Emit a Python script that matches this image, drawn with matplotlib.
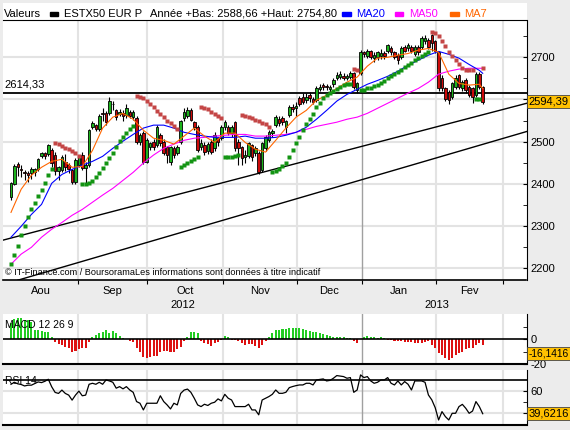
import matplotlib
matplotlib.use("Agg")
import matplotlib.pyplot as plt
import matplotlib.transforms as mtrans
from matplotlib.patches import Rectangle

plt.rcParams['font.family'] = ['Liberation Sans', 'DejaVu Sans']
plt.rcParams['font.size'] = 8

# daily candles, Aug 2012 -> Feb 2013 (ESTX50)
opens = [2368, 2400, 2446, 2436, 2428, 2425, 2425, 2427, 2434, 2465,
         2472, 2470, 2480, 2468, 2430, 2432, 2451, 2444, 2432, 2404,
         2444, 2468, 2437, 2444, 2534, 2539, 2529, 2568, 2567, 2567,
         2590, 2574, 2566, 2568, 2562, 2570, 2558, 2555, 2499, 2520,
         2451, 2487, 2498, 2491, 2515, 2499, 2487, 2451, 2484, 2472,
         2499, 2555, 2560, 2574, 2546, 2534, 2487, 2491, 2478, 2499,
         2484, 2508, 2508, 2534, 2534, 2520, 2546, 2499, 2487, 2463,
         2465, 2491, 2472, 2472, 2432, 2484, 2503, 2520, 2539, 2553,
         2556, 2534, 2563, 2582, 2580, 2603, 2605, 2598, 2610, 2600,
         2598, 2625, 2634, 2632, 2624, 2636, 2650, 2653, 2655, 2650,
         2653, 2662, 2622, 2662, 2712, 2702, 2714, 2698, 2700, 2703,
         2710, 2714, 2721, 2712, 2705, 2700, 2724, 2721, 2724, 2709,
         2724, 2724, 2738, 2740, 2752, 2738, 2712, 2650, 2626, 2618,
         2606, 2630, 2657, 2626, 2645, 2630, 2626, 2610, 2661, 2629]
highs = [2405, 2446, 2452, 2445, 2432, 2430, 2440, 2437, 2461, 2476,
         2475, 2495, 2484, 2475, 2442, 2468, 2470, 2450, 2436, 2460,
         2468, 2475, 2452, 2530, 2548, 2542, 2565, 2580, 2572, 2605,
         2596, 2578, 2578, 2575, 2588, 2575, 2575, 2560, 2520, 2525,
         2508, 2500, 2505, 2540, 2520, 2505, 2490, 2490, 2490, 2492,
         2552, 2580, 2582, 2580, 2550, 2540, 2505, 2500, 2500, 2505,
         2522, 2512, 2540, 2552, 2540, 2540, 2550, 2505, 2490, 2480,
         2500, 2495, 2490, 2478, 2500, 2515, 2527, 2530, 2562, 2560,
         2560, 2552, 2587, 2590, 2595, 2608, 2615, 2615, 2618, 2605,
         2632, 2637, 2640, 2637, 2634, 2650, 2665, 2668, 2662, 2660,
         2668, 2665, 2642, 2718, 2716, 2720, 2718, 2712, 2716, 2720,
         2715, 2732, 2726, 2716, 2710, 2726, 2730, 2733, 2730, 2728,
         2730, 2750, 2752, 2745, 2754.8, 2742, 2716, 2658, 2630, 2622,
         2642, 2657, 2660, 2647, 2650, 2635, 2630, 2665, 2665, 2632]
lows = [2362, 2396, 2418, 2415, 2408, 2405, 2412, 2418, 2430, 2460,
        2458, 2466, 2440, 2420, 2408, 2428, 2430, 2425, 2400, 2400,
        2440, 2432, 2401, 2440, 2530, 2525, 2525, 2550, 2540, 2563,
        2575, 2552, 2560, 2550, 2556, 2555, 2552, 2495, 2492, 2446,
        2448, 2480, 2480, 2488, 2490, 2468, 2449, 2445, 2462, 2468,
        2495, 2550, 2555, 2548, 2528, 2475, 2480, 2468, 2470, 2470,
        2478, 2490, 2504, 2528, 2515, 2512, 2478, 2444, 2445, 2450,
        2460, 2455, 2465, 2424, 2428, 2478, 2498, 2512, 2535, 2538,
        2540, 2520, 2558, 2570, 2560, 2585, 2590, 2592, 2595, 2588,
        2593, 2620, 2622, 2622, 2618, 2630, 2645, 2648, 2645, 2645,
        2648, 2625, 2615, 2658, 2700, 2698, 2695, 2690, 2694, 2695,
        2695, 2710, 2705, 2695, 2685, 2695, 2712, 2714, 2710, 2703,
        2705, 2720, 2732, 2720, 2714, 2710, 2620, 2620, 2596, 2588.66,
        2600, 2625, 2625, 2620, 2615, 2605, 2591, 2605, 2625, 2590]
closes = [2401, 2442, 2440, 2432, 2425, 2420, 2434, 2434, 2458, 2472,
          2465, 2491, 2449, 2430, 2439, 2463, 2439, 2435, 2404, 2456,
          2465, 2437, 2444, 2527, 2544, 2529, 2560, 2566, 2546, 2596,
          2588, 2558, 2570, 2560, 2579, 2561, 2570, 2499, 2515, 2451,
          2503, 2496, 2487, 2534, 2496, 2472, 2468, 2487, 2468, 2487,
          2548, 2570, 2574, 2551, 2534, 2480, 2496, 2475, 2494, 2475,
          2515, 2499, 2534, 2546, 2520, 2534, 2484, 2484, 2461, 2468,
          2496, 2463, 2484, 2427, 2496, 2510, 2522, 2525, 2558, 2544,
          2546, 2548, 2582, 2577, 2584, 2589, 2594, 2605, 2603, 2595,
          2627, 2630, 2629, 2629, 2629, 2645, 2658, 2660, 2652, 2655,
          2662, 2629, 2638, 2712, 2707, 2714, 2700, 2705, 2712, 2710,
          2702, 2728, 2712, 2700, 2693, 2721, 2716, 2728, 2716, 2724,
          2712, 2745, 2745, 2724, 2735, 2715, 2626, 2628, 2602, 2598,
          2638, 2650, 2630, 2641, 2622, 2610, 2606, 2661, 2630, 2594.39]

# parabolic SAR, one value per candle
sar = [2209, 2231, 2252, 2278, 2299, 2321, 2340, 2354, 2371, 2385,
       2401, 2420, 2435, 2496, 2494, 2489, 2484, 2482, 2477, 2473,
       2466, 2399, 2399, 2401, 2406, 2416, 2425, 2437, 2449, 2461,
       2473, 2487, 2501, 2510, 2520, 2529, 2537, 2608, 2605, 2603,
       2596, 2589, 2582, 2572, 2565, 2558, 2548, 2544, 2537, 2529,
       2439, 2444, 2449, 2454, 2458, 2463, 2582, 2579, 2577, 2570,
       2565, 2560, 2555, 2463, 2463, 2463, 2465, 2468, 2563, 2560,
       2558, 2555, 2551, 2548, 2544, 2541, 2534, 2427, 2430, 2435,
       2442, 2449, 2463, 2480, 2496, 2510, 2527, 2541, 2553, 2565,
       2582, 2591, 2603, 2610, 2615, 2619, 2624, 2629, 2634, 2636,
       2637, 2672, 2670, 2622, 2623, 2626, 2628, 2631, 2635, 2640,
       2644, 2650, 2655, 2660, 2665, 2671, 2676, 2681, 2687, 2693,
       2698, 2703, 2709, 2713, 2759, 2757, 2750, 2738, 2726, 2712,
       2702, 2693, 2683, 2674, 2669, 2669, 2669, 2600, 2601, 2674]

# moving averages read every third session
ma_days = [0, 3, 6, 9, 12, 15, 18, 21, 24, 27, 30, 33, 36, 39, 42, 45,
           48, 51, 54, 57, 60, 63, 66, 69, 72, 75, 78, 81, 84, 87, 90, 93,
           96, 99, 102, 105, 108, 111, 114, 117, 120, 123, 126, 129, 132,
           135, 138, 139]
ma20 = [2273, 2299, 2327, 2351, 2401, 2422, 2434, 2444, 2453, 2465, 2484,
        2501, 2517, 2532, 2539, 2539, 2532, 2522, 2517, 2513, 2510, 2510,
        2510, 2513, 2508, 2508, 2510, 2515, 2522, 2534, 2553, 2574, 2596,
        2612, 2624, 2636, 2645, 2655, 2667, 2681, 2693, 2705, 2714, 2707,
        2698, 2683, 2669, 2662]
ma50 = [2209, 2233, 2249, 2273, 2292, 2308, 2325, 2339, 2356, 2373, 2389,
        2408, 2427, 2449, 2468, 2484, 2494, 2503, 2508, 2510, 2513, 2515,
        2517, 2517, 2513, 2513, 2515, 2517, 2522, 2529, 2536, 2541, 2546,
        2553, 2558, 2567, 2579, 2591, 2603, 2615, 2626, 2641, 2660, 2667,
        2672, 2674, 2674, 2674]
ma7 = [2332, 2387, 2420, 2439, 2453, 2458, 2439, 2441, 2479, 2532, 2558,
       2567, 2553, 2527, 2508, 2503, 2494, 2513, 2532, 2513, 2498, 2520,
       2520, 2498, 2482, 2475, 2503, 2532, 2558, 2574, 2598, 2610, 2626,
       2641, 2653, 2679, 2698, 2700, 2705, 2709, 2717, 2721, 2712, 2660,
       2638, 2634, 2636, 2626]

macd_hist = [12.6, 16, 17, 16.6, 15.2, 15.2, 13.8, 7.2, 7.2, 6.4,
             5.8, 5.4, 1.8, -2.2, -4.2, -4.8, -6.2, -7, -10.2, -9.6,
             -8, -7.4, -7.4, -2.6, 1.4, 3.2, 4.6, 5.8, 7, 4.6,
             6.4, 4.6, 2.6, 1, 0.2, -1.6, -2.6, -7.4, -10.2, -14.2,
             -15, -14.2, -13.4, -13.4, -10.2, -9.6, -9.6, -10.2, -10.2, -8.2,
             -6.2, -1.6, 1.8, 5.8, 5.8, 4.6, -1.6, -3.4, -4.2, -5.4,
             -3.4, -2.6, -0.4, 2.4, 1.8, -0.6, -0.8, -1.6, -3.4, -4.8,
             -4.2, -4.2, -5.4, -7.4, -4.8, -1.6, 1.8, 4.6, 7.2, 7.2,
             7.8, 7.8, 8.6, 8.6, 8.6, 8.6, 8, 7.2, 6.4, 5.8,
             5.4, 4.6, 3.8, 3.2, 2.6, 1.8, 1.8, 1.6, 1.4, 1,
             1, -1.6, -3, 0.4, 1.8, 2.6, 1.8, 1.4, 1, 1.4,
             1, -0.4, -0.8, -1.4, -1.6, -1.6, -2.2, -2.2, -2.6, -3,
             -3.4, -3, -2.2, -1.6, -4.8, -7, -11, -12.8, -15.4, -16.8,
             -15, -12.8, -11.4, -10.2, -8.2, -7.4, -7, -4.8, -3.4, -4.8]

rsi = [66, 67.8, 66.4, 65.8, 64.5, 65.2, 65.2, 66.7, 68.1, 67.5,
       68.7, 70.5, 63.7, 58.7, 57.8, 60.8, 57.8, 56.3, 51.8, 56.3,
       59.9, 55.7, 56.3, 66, 66.9, 66, 67.8, 66, 69.9, 69,
       67.8, 62.5, 63.9, 61.9, 63.9, 60.9, 58.8, 50.5, 49, 43,
       49, 49, 49, 49, 55.7, 50.5, 47.5, 43.9, 49, 47.5,
       57.8, 60.8, 61.7, 58.8, 53.5, 47.5, 46, 48.1, 47, 49,
       49.9, 52.9, 51.1, 57, 53.5, 51.9, 46, 46, 46, 46,
       48.1, 43, 43, 38.6, 51.9, 53.5, 55, 57, 60.9, 57.9,
       57.9, 58.8, 63, 64, 64.8, 65.4, 65.4, 66.9, 66.9, 65.4,
       69.9, 70.3, 70.8, 69, 69.5, 71.4, 73.8, 73.3, 72.9, 71.4,
       72, 58.8, 60.9, 74.4, 72, 72.9, 69, 66.9, 67.8, 69.9,
       69.9, 72, 66.9, 65.4, 69, 65.4, 68.4, 66, 60.9, 69,
       69, 69, 67.8, 56.4, 52, 45, 34, 41.5, 37, 34,
       40, 40, 46, 48, 44.5, 40, 42, 50.5, 46, 39.6216]

month_edges = [19.7, 40.1, 62.5, 84.3, 103.4, 125.2, 145.0]
month_names = ['Aou', 'Sep', 'Oct', 'Nov', 'Dec', 'Jan', 'Fev']
years = ['2012', '2013']
year_pos = [50.5, 125.5]

price_ticks = [2200, 2300, 2400, 2500, 2600, 2700]
price_labels = ['2200', '2300', '2400', '2500', '', '2700']

trend_hi_x, trend_hi_y = [-2.4, 152], [2266, 2591]
trend_lo_x, trend_lo_y = [2.0, 152], [2171, 2524]
level = 2614.33
last_macd = -16.1416
year_low, year_high = 2588.66, 2754.80

W, H = 570, 430
BG = '#ECECEC'
GRID = '#E3E3E3'
UP, DOWN = '#1DB31D', '#CC0A0A'
GOLD = '#FFC000'


def rect(x0, y0, x1, y1):
    return [x0 / W, 1 - y1 / H, (x1 - x0) / W, (y1 - y0) / H]


def fr(v, n):
    return f"{v:.{n}f}".replace('.', ',')


fig = plt.figure(figsize=(W / 100, H / 100), dpi=100, facecolor=BG)
head = fig.add_axes(rect(3, 3, 526.5, 19.5))
ax = fig.add_axes(rect(3, 19.5, 526.5, 280))
mac = fig.add_axes(rect(3, 313.5, 526.5, 364))
rs = fig.add_axes(rect(3, 370, 526.5, 425))

days = list(range(len(closes)))
xlim = (-2.36, 151.9)
jan = month_edges[month_names.index('Jan') - 1]


def frame(a):
    a.set_xlim(*xlim)
    a.set_facecolor('white')
    a.spines['left'].set_visible(False)
    a.spines['top'].set_visible(False)
    a.spines['bottom'].set_linewidth(1.5)
    a.yaxis.tick_right()
    a.set_xticks(month_edges)
    a.tick_params(axis='x', length=0, labelbottom=False)
    a.tick_params(axis='y', which='both', direction='in', length=3,
                  pad=3, labelsize=8)
    for m in month_edges:
        if m == jan:
            a.axvline(m, color='#A0A0A0', lw=1.0, zorder=0.5)
        else:
            a.axvline(m, color=GRID, lw=1.5, zorder=0.5)


for a in (ax, mac, rs):
    frame(a)

# header strip
head.set_xlim(3, 526.5)
head.set_ylim(19.5, 3)
head.set_facecolor('white')
head.set_xticks([])
head.set_yticks([])
for s in head.spines.values():
    s.set_visible(False)
head.text(4, 17, 'Valeurs', fontsize=8, va='baseline')
head.add_patch(Rectangle((50, 12.3), 8.4, 3.4, color='black'))
head.text(64.5, 17, 'ESTX50 EUR P', fontsize=8, va='baseline')
head.text(150, 17, f'Année +Bas: {fr(year_low, 2)} +Haut: {fr(year_high, 2)}',
          fontsize=8, va='baseline')
for x0, name, col in [(342, 'MA20', '#0000FF'), (394.5, 'MA50', '#FF00FF'),
                      (450, 'MA7', '#FF6600')]:
    head.add_patch(Rectangle((x0, 12.3), 8.8, 3.4, color=col))
    head.text(x0 + 14.5, 17, name, fontsize=8, va='baseline', color=col)

# main price panel
ax.spines['top'].set_visible(True)
ax.spines['bottom'].set_linewidth(1.2)
ax.set_ylim(2171.5, 2789.7)
ax.set_yticks(price_ticks)
ax.set_yticklabels(price_labels)
ax.set_yticks([2250, 2350, 2450, 2550, 2650, 2750], minor=True)
for v in price_ticks:
    ax.axhline(v, color=GRID, lw=1.5, zorder=0.4)

centers = [(a + b) / 2 for a, b in zip([xlim[0]] + month_edges[:-1], month_edges)]
ax.set_xticks(centers, minor=True)
ax.set_xticklabels(month_names, minor=True)
ax.tick_params(axis='x', which='major', direction='out', length=3, color='black')
ax.tick_params(axis='x', which='minor', length=0, pad=4, labelbottom=True, labelsize=8)
ytr = mtrans.blended_transform_factory(ax.transData, ax.transAxes)
for yr, p in zip(years, year_pos):
    ax.text(p, -0.096, yr, transform=ytr, ha='center', va='center', fontsize=8)

ax.plot(trend_hi_x, trend_hi_y, color='black', lw=1, zorder=2)
ax.plot(trend_lo_x, trend_lo_y, color='black', lw=1, zorder=2)
ax.axhline(level, color='black', lw=1.3, zorder=2)
htr = mtrans.blended_transform_factory(ax.transAxes, ax.transData)
ax.annotate(fr(level, 2), xy=(0.003, level), xycoords=htr, xytext=(0, 2.5),
            textcoords='offset points', fontsize=8, va='bottom')
ax.text(0.004, 0.028,
        '© IT-Finance.com / BoursoramaLes informations sont données à titre indicatif',
        transform=ax.transAxes, fontsize=6.6, va='center', zorder=1.5)

ax.vlines(days, lows, highs, color='black', lw=0.8, zorder=3)
body = [c - o for o, c in zip(opens, closes)]
cols = [UP if c >= o else DOWN for o, c in zip(opens, closes)]
ax.bar(days, body, bottom=opens, width=0.75, color=cols, edgecolor='black',
       lw=0.6, zorder=4)

ax.plot(ma_days, ma50, color='#FF00FF', lw=0.8, zorder=5)
ax.plot(ma_days, ma20, color='#0000FF', lw=0.8, zorder=5)
ax.plot(ma_days, ma7, color='#FF6600', lw=0.8, zorder=5)

up = [(d, s) for d, s, c in zip(days, sar, closes) if s < c]
dn = [(d, s) for d, s, c in zip(days, sar, closes) if s >= c]
ax.plot([p[0] for p in up], [p[1] for p in up], 's', ms=2.6, color='#139413',
        mec='none', zorder=6)
ax.plot([p[0] for p in dn], [p[1] for p in dn], 's', ms=2.6, color='#C44646',
        mec='none', zorder=6)

box_style = dict(boxstyle='square,pad=0.15', fc=GOLD, ec='#444444', lw=0.6)
ax.annotate(fr(closes[-1], 2), xy=(1, closes[-1]), xycoords=htr, xytext=(1.5, 0),
            textcoords='offset points', ha='left', va='center', fontsize=8,
            bbox=box_style, annotation_clip=False, zorder=10)

# MACD panel
mac.set_ylim(-20, 20.4)
mac.bar(days, macd_hist, width=0.6,
        color=['#22CC22' if v >= 0 else '#DD1111' for v in macd_hist], zorder=2)
mac.axhline(0, color='black', lw=1.2, zorder=3)
mac.set_yticks([-20, 0])
mac.set_yticklabels(['-20', '0'])
mac.set_yticks([-10, 10], minor=True)
mac.text(0.004, 0.77, 'MACD 12 26 9', transform=mac.transAxes, fontsize=7.5,
         va='center', zorder=4)
mtr = mtrans.blended_transform_factory(mac.transAxes, mac.transData)
mac.annotate(fr(last_macd, 4), xy=(1, last_macd), xycoords=mtr, xytext=(1.2, 4),
             textcoords='offset points', ha='left', va='center', fontsize=7.4,
             bbox=box_style, annotation_clip=False, zorder=10)

# RSI panel
rs.set_ylim(29.5, 78.8)
for v in [40, 60]:
    rs.axhline(v, color=GRID, lw=1.5, zorder=0.4)
rs.axhline(70, color='black', lw=1.2, zorder=1)
rs.plot(days, rsi, color='black', lw=0.9, zorder=3)
rs.set_yticks([40, 60])
rs.set_yticklabels(['', '60'])
rs.set_yticks([50], minor=True)
rs.text(0.004, 0.8, 'RSI 14', transform=rs.transAxes, fontsize=7.5,
        va='center', zorder=4)
rtr = mtrans.blended_transform_factory(rs.transAxes, rs.transData)
rs.annotate(fr(rsi[-1], 4), xy=(1, rsi[-1]), xycoords=rtr, xytext=(1.5, 0),
            textcoords='offset points', ha='left', va='center', fontsize=8,
            bbox=box_style, annotation_clip=False, zorder=10)

fig.savefig('out.png', dpi=100, facecolor=BG)
